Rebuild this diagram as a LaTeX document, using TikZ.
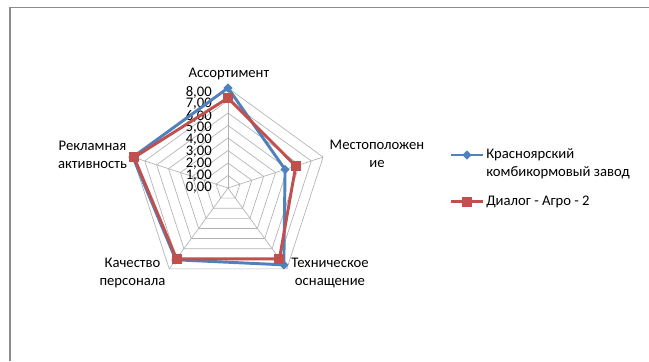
\documentclass[tikz,border=0pt]{standalone}
\usepackage{fontspec}
\setmainfont{Carlito}
\usetikzlibrary{shapes.geometric,calc}
\definecolor{serblue}{HTML}{4F81BD}
\definecolor{serred}{HTML}{C0504D}
\begin{document}
\begin{tikzpicture}[x=0.75pt,y=0.75pt,font=\fontsize{11}{13.5}\selectfont,
  grid/.style={draw=black!30,line width=0.5pt},
  axlbl/.style={align=center,inner sep=0pt},
  serA/.style={draw=serblue,line width=2.2pt,line join=round},
  serB/.style={draw=serred,line width=2.2pt,line join=round},
  mkA/.style={diamond,fill=serblue,inner sep=0pt,minimum size=7pt},
  mkB/.style={rectangle,fill=serred,inner sep=0pt,minimum size=7.5pt}]
\useasboundingbox (0,0) rectangle (649,361);
\draw[black!45,line width=1pt] (10,0) -- (10,353.5) -- (649,353.5);
\begin{scope}[shift={(228,173)}]
\coordinate (c) at (0,0);
\foreach \a [count=\i] in {90,18,-54,-126,162}
  \coordinate (v\i) at (\a:100);
% pentagon grid
\foreach \k in {1,...,8}
  \draw[grid] (90:12.5*\k) -- (18:12.5*\k) -- (-54:12.5*\k) -- (-126:12.5*\k) -- (162:12.5*\k) -- cycle;
\foreach \i in {1,...,5}
  \draw[grid] (c) -- (v\i);
\foreach \k in {0,...,8}
  \node[anchor=east,inner sep=0pt] (n\k) at (-16,12*\k) {\k,00};
% axis labels
\node[axlbl] (ax1) at (1,114) {Ассортимент};
\node[axlbl] (ax2) at (149,34) {Местоположен\\ие};
\node[axlbl] (ax3) at (102,-85) {Техническое\\оснащение};
\node[axlbl] (ax4) at (-95.5,-85) {Качество\\персонала};
\node[axlbl] (ax5) at (-135.5,33.5) {Рекламная\\активность};
% series
\foreach \a/\v [count=\i] in {90/8,18/4.8,-54/7.6,-126/7.1,162/8}
  \coordinate (b\i) at (\a:12.5*\v);
\foreach \a/\v [count=\i] in {90/7.2,18/5.7,-54/7.0,-126/7.0,162/7.9}
  \coordinate (r\i) at (\a:12.5*\v);
\draw[serA] (b1) -- (b2) -- (b3) -- (b4) -- (b5) -- cycle;
\foreach \i in {1,...,5} \node[mkA] (mb\i) at (b\i) {};
\draw[serB] (r1) -- (r2) -- (r3) -- (r4) -- (r5) -- cycle;
\foreach \i in {1,...,5} \node[mkB] (mr\i) at (r\i) {};
\end{scope}
% legend
\coordinate (la1) at (451,206);
\coordinate (la2) at (483,206);
\draw[serA] (la1) -- (la2);
\node[mkA] (lma) at ($(la1)!0.5!(la2)$) {};
\node[anchor=west,align=left,inner sep=0pt] (lta) at (486,197.5) {Красноярский\\комбикормовый завод};
\coordinate (lb1) at (451,159.5);
\coordinate (lb2) at (483,159.5);
\draw[serB] (lb1) -- (lb2);
\node[mkB] (lmb) at ($(lb1)!0.5!(lb2)$) {};
\node[anchor=west,inner sep=0pt] (ltb) at (486,159.5) {Диалог - Агро - 2};
\end{tikzpicture}
\end{document}
